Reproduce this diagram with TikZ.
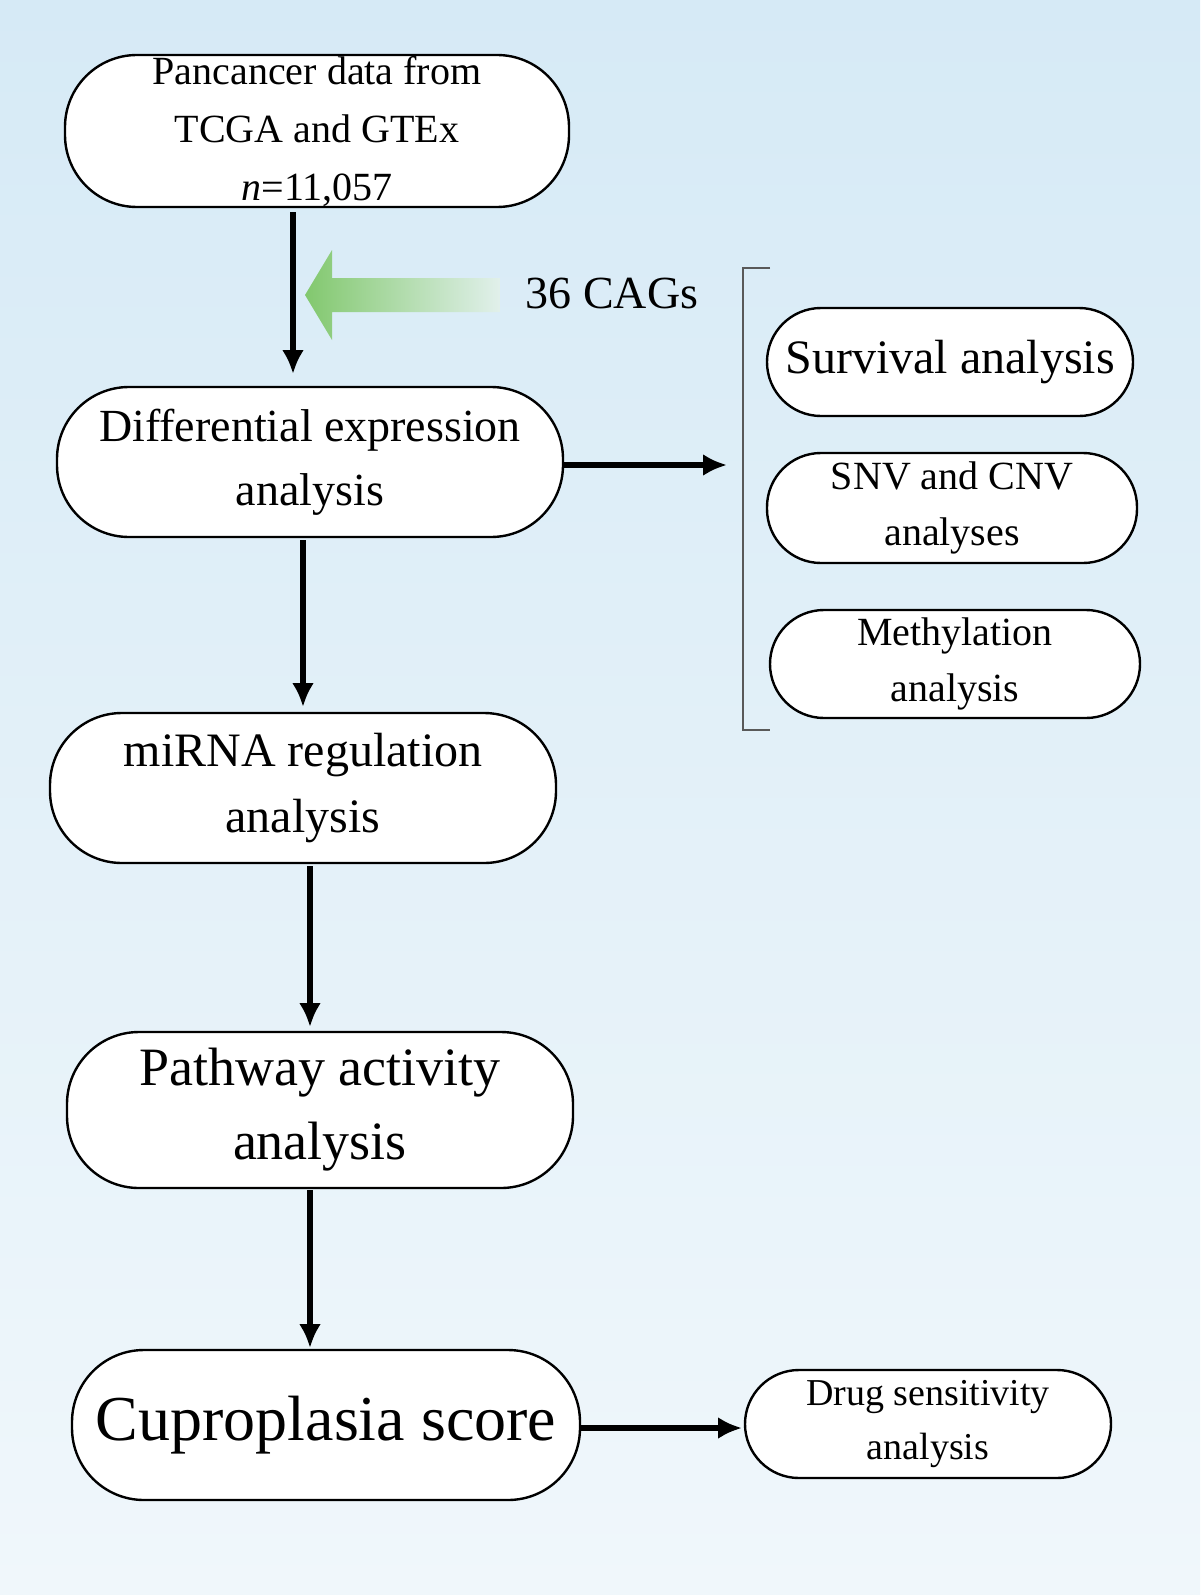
\documentclass[tikz,border=0pt]{standalone}
\usepackage{fontspec}
\setmainfont{Liberation Serif}
\usetikzlibrary{arrows.meta}
\begin{document}
\begin{tikzpicture}[x=0.5pt,y=-0.5pt,
  box/.style={draw=black,fill=white,line width=1.2pt,rounded corners=36pt,align=center,inner sep=0pt},
  arr/.style={line width=3pt,-{Latex[length=12pt,width=11pt]}}]
\shade[top color={rgb,255:red,214;green,234;blue,246},bottom color={rgb,255:red,240;green,247;blue,251}] (0,0) rectangle (1200,1595);
\useasboundingbox (0,0) rectangle (1200,1595);
\node[box,minimum width=252pt,minimum height=76pt,font=\fontsize{20}{29}\selectfont] (a) at (317,131) {Pancancer data from\\TCGA and GTEx\\\textit{n}=11,057};
\node[box,minimum width=253pt,minimum height=75pt,font=\fontsize{23}{32}\selectfont] (b) at (310,462) {Differential expression\\analysis};
\node[box,minimum width=253pt,minimum height=75pt,font=\fontsize{24}{33}\selectfont] (c) at (303,788) {miRNA regulation\\analysis};
\node[box,minimum width=253pt,minimum height=78pt,font=\fontsize{27}{37}\selectfont] (d) at (320,1110) {Pathway activity\\analysis};
\node[box,minimum width=254pt,minimum height=75pt,font=\fontsize{32}{36}\selectfont] (e) at (326,1425) {Cuproplasia score};
\node[box,rounded corners=27pt,minimum width=183pt,minimum height=54pt,font=\fontsize{24}{28}\selectfont] (f) at (950,362) {Survival analysis};
\node[box,rounded corners=27pt,minimum width=185pt,minimum height=55pt,font=\fontsize{20}{28}\selectfont] (g) at (952,508) {SNV and CNV\\analyses};
\node[box,rounded corners=27pt,minimum width=185pt,minimum height=54pt,font=\fontsize{20}{28}\selectfont] (h) at (955,664) {Methylation\\analysis};
\node[box,rounded corners=27pt,minimum width=183pt,minimum height=54pt,font=\fontsize{19}{27}\selectfont] (i) at (928,1424) {Drug sensitivity\\analysis};
\draw[arr] (293,212) -- (293,374);
\draw[arr] (303,540) -- (303,707);
\draw[arr] (310,866) -- (310,1027);
\draw[arr] (310,1190) -- (310,1348);
\draw[arr] (b.east |- 0,465) -- (727,465);
\draw[arr] (e.east |- 0,1428) -- (742,1428);
\shade[left color={rgb,255:red,130;green,200;blue,110},right color={rgb,255:red,225;green,240;blue,235}]
 (305,295) -- (332,250) -- (332,278) -- (500,278) -- (500,312) -- (332,312) -- (332,340) -- cycle;
\node[font=\fontsize{23}{26}\selectfont] (cag) at (612,293) {36 CAGs};
\draw[gray!70!black,line width=0.6pt] (770,268) -- (743,268) -- (743,730) -- (770,730);
\end{tikzpicture}
\end{document}
